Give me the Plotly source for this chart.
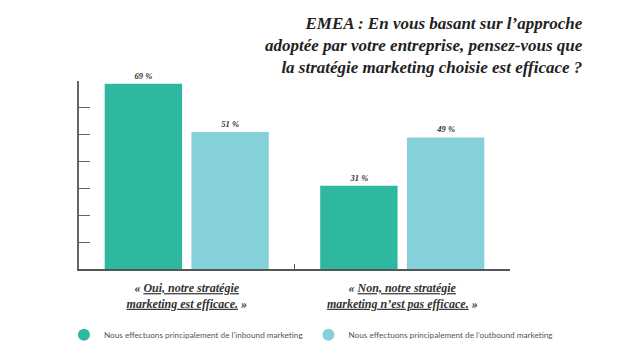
import plotly.graph_objects as go

categories = [
    "<b><i>« <u>Oui, notre stratégie</u><br><u>marketing est efficace.</u> »</i></b>",
    "<b><i>« <u>Non, notre stratégie</u><br><u>marketing n’est pas efficace.</u> »</i></b>",
]
series_names = [
    "Nous effectuons principalement de l’inbound marketing",
    "Nous effectuons principalement de l’outbound marketing",
]
inbound = [69, 31]
outbound = [51, 49]
colors = ["#2FB8A0", "#84D1DA"]
title = ("<b><i>EMEA : En vous basant sur l’approche<br>"
         "adoptée par votre entreprise, pensez-vous que<br>"
         "la stratégie marketing choisie est efficace ?</i></b>")

serif = "Liberation Serif"

fig = go.Figure()
for name, vals, col in zip(series_names, [inbound, outbound], colors):
    fig.add_trace(go.Bar(
        x=categories, y=vals, name=name, marker_color=col,
        marker_line_width=0,
        texttemplate="<b><i>%{y} %</i></b>", textposition="outside",
        textfont=dict(family=serif, size=8.5, color="#333"),
        cliponaxis=False, showlegend=False,
    ))
    fig.add_trace(go.Scatter(
        x=[None], y=[None], mode="markers", name=name,
        marker=dict(symbol="circle", size=12, color=col),
    ))

fig.update_layout(
    width=636, height=353,
    margin=dict(l=79, r=126, t=81, b=84, autoexpand=False),
    paper_bgcolor="white", plot_bgcolor="white",
    barmode="group", bargap=0.195, bargroupgap=0.108,
    showlegend=True,
    legend=dict(orientation="h", x=-0.035, xanchor="left", y=-0.35, yanchor="middle",
                font=dict(family="Lato", size=8.2, color="#555"),
                bgcolor="rgba(0,0,0,0)"),
    xaxis=dict(showline=True, linecolor="#555", linewidth=1.5,
               ticks="inside", ticklen=5, tickcolor="#555", tickson="boundaries",
               tickfont=dict(family=serif, size=12, color="#333"),
               ticklabelstandoff=7, automargin=False,
               showgrid=False, fixedrange=True),
    yaxis=dict(range=[0, 70], dtick=10, showline=True, linecolor="#666", linewidth=1.5,
               ticks="inside", ticklen=11, tickcolor="#666", showticklabels=False,
               showgrid=False, zeroline=False, automargin=False),
    annotations=[dict(
        text=title, xref="paper", yref="paper", x=(585 - 79) / 431, y=(269 - 12) / 188.3,
        xanchor="right", yanchor="top", align="right", showarrow=False,
        font=dict(family=serif, size=17, color="#222"),
    )],
)
fig.write_html("out.html")
